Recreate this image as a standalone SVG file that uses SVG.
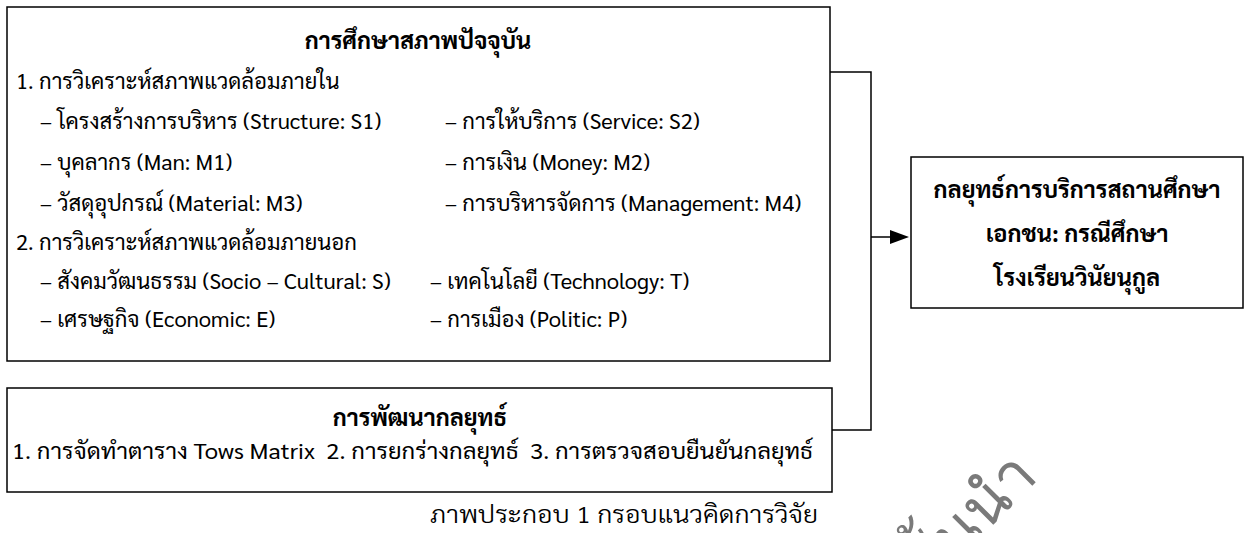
<svg xmlns="http://www.w3.org/2000/svg" width="1249" height="533" viewBox="0 0 1249 533">
<defs>
<style>
.box{fill:#fff;stroke:#000;stroke-width:1.5}
.t{font-family:"Sarabun","Loma","Noto Sans Thai Looped",sans-serif;font-size:22px;fill:#000}
.b{font-weight:bold;font-size:23.5px}
.c{text-anchor:middle}
.ln{fill:none;stroke:#000;stroke-width:1.5}
.cap{font-family:"Sarabun","Loma","Noto Sans Thai Looped",sans-serif;font-size:24px;font-weight:300;fill:#000}
.wm{font-family:"Loma","Noto Sans Thai Looped",sans-serif;font-size:62px;fill:#7a7a7a;text-anchor:end}
</style>
</defs>
<rect width="1249" height="533" fill="#fff"/>
<g id="connectors">
<polyline class="ln" points="830,72 871,72 871,430 832,430"/>
<line class="ln" x1="871" y1="237" x2="891" y2="237"/>
<path d="M890,230 L909,237 L890,244 Z" fill="#000"/>
</g>
<g id="current-state">
<rect class="box" x="7" y="7" width="823" height="354"/>
<text class="t b c" x="418" y="49">การศึกษาสภาพปัจจุบัน</text>
<text class="t" x="16" y="89">1. การวิเคราะห์สภาพแวดล้อมภายใน</text>
<text class="t" x="40" y="129">– โครงสร้างการบริหาร (Structure: S1)</text>
<text class="t" x="445" y="129">– การให้บริการ (Service: S2)</text>
<text class="t" x="40" y="170">– บุคลากร (Man: M1)</text>
<text class="t" x="445" y="170">– การเงิน (Money: M2)</text>
<text class="t" x="40" y="211">– วัสดุอุปกรณ์ (Material: M3)</text>
<text class="t" x="445" y="211">– การบริหารจัดการ (Management: M4)</text>
<text class="t" x="16" y="250">2. การวิเคราะห์สภาพแวดล้อมภายนอก</text>
<text class="t" x="40" y="289">– สังคมวัฒนธรรม (Socio – Cultural: S)</text>
<text class="t" x="430" y="289">– เทคโนโลยี (Technology: T)</text>
<text class="t" x="40" y="327">– เศรษฐกิจ (Economic: E)</text>
<text class="t" x="430" y="327">– การเมือง (Politic: P)</text>
</g>
<g id="strategy-dev">
<rect class="box" x="7" y="388" width="825" height="104"/>
<text class="t b c" x="420" y="426">การพัฒนากลยุทธ์</text>
<text class="t" x="12" y="459" textLength="801" lengthAdjust="spacingAndGlyphs">1. การจัดทำตาราง Tows Matrix&#160; 2. การยกร่างกลยุทธ์&#160; 3. การตรวจสอบยืนยันกลยุทธ์</text>
</g>
<g id="result">
<rect class="box" x="911" y="157" width="332" height="151"/>
<text class="t b c" x="1077" y="198">กลยุทธ์การบริการสถานศึกษา</text>
<text class="t b c" x="1077" y="242">เอกชน: กรณีศึกษา</text>
<text class="t b c" x="1077" y="286">โรงเรียนวินัยนุกูล</text>
</g>
<text class="cap" x="430" y="523" textLength="388" lengthAdjust="spacingAndGlyphs">ภาพประกอบ 1 กรอบแนวคิดการวิจัย</text>
<text class="wm" transform="translate(1040,478) rotate(-45)" x="0" y="0">ชั้นนำ</text>
</svg>
